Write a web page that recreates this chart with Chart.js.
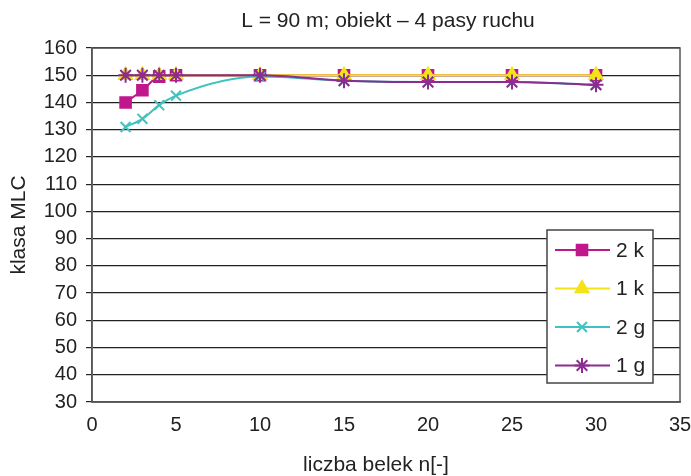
<!DOCTYPE html>
<html><head><meta charset="utf-8">
<script src="https://cdn.jsdelivr.net/npm/chart.js@4.4.0/dist/chart.umd.min.js"></script>
<style>html,body{margin:0;padding:0;background:#fff}#w{width:691px;height:476px}</style>
</head><body><div id="w"><canvas id="c"></canvas></div>
<script>
const xValues = [2, 3, 4, 5, 10, 15, 20, 25, 30];
const s2k = [140, 144.5, 149.5, 150, 150, 150, 150, 150, 150];
const s1k = [150, 150, 150, 150, 150, 150, 150, 150, 150];
const s2g = [131, 134, 139, 142.5, 149.5, 148, 147.5, 147.5, 146.5];
const s1g = [150, 150, 150, 150, 150, 148, 147.5, 147.5, 146.5];
const seriesNames = ['2 k', '1 k', '2 g', '1 g'];
const titleText = 'L = 90 m; obiekt – 4 pasy ruchu';
const xTitle = 'liczba belek n[-]';
const yTitle = 'klasa MLC';

const FONT = '"Liberation Sans", Arial, sans-serif';
const pts = a => a.map((v, i) => ({x: xValues[i], y: v}));
const styles = [
  {c: '#C0188C', p: 'rect', r: 7.5},
  {c: '#F5E31A', p: 'triangle', r: 7.5},
  {c: '#40C2C0', p: 'crossRot', r: 7},
  {c: '#8B2D8F', p: 'star', r: 7.5}
];
const seriesData = [s2k, s1k, s2g, s1g];
const datasets = seriesData.map((d, i) => ({
  label: seriesNames[i], data: pts(d),
  borderColor: styles[i].c, backgroundColor: styles[i].c,
  pointStyle: styles[i].p, pointRadius: styles[i].r, pointBorderWidth: 2,
  borderWidth: 2, tension: 0.4, cubicInterpolationMode: 'monotone'
})).reverse();

function drawMarker(ctx, i, x, y) {
  ctx.save();
  ctx.fillStyle = styles[i].c; ctx.strokeStyle = styles[i].c; ctx.lineWidth = 2;
  Chart.helpers.drawPoint(ctx, {pointStyle: styles[i].p, radius: styles[i].r, rotation: 0, borderWidth: 2}, x, y);
  ctx.restore();
}

const deco = {
  id: 'deco',
  afterDraw(chart) {
    const ctx = chart.ctx, a = chart.chartArea;
    ctx.save();
    ctx.fillStyle = '#222';
    ctx.font = '21px ' + FONT;
    ctx.textAlign = 'center'; ctx.textBaseline = 'middle';
    ctx.fillText(titleText, 388, 21);
    ctx.fillText(xTitle, 376, 465);
    // plot border
    ctx.strokeStyle = '#555'; ctx.lineWidth = 1.5;
    ctx.strokeRect(a.left, a.top, a.right - a.left, a.bottom - a.top);
    // legend
    const lx = 547, ly = 230, lw = 106, lh = 153;
    ctx.fillStyle = '#fff'; ctx.fillRect(lx, ly, lw, lh);
    ctx.strokeStyle = '#444'; ctx.lineWidth = 1.5; ctx.strokeRect(lx, ly, lw, lh);
    ctx.font = '21px ' + FONT; ctx.textAlign = 'left';
    seriesNames.forEach((n, i) => {
      const y = ly + 20 + i * 38.5;
      ctx.strokeStyle = styles[i].c; ctx.lineWidth = 2;
      ctx.beginPath(); ctx.moveTo(lx + 8, y); ctx.lineTo(lx + 63, y); ctx.stroke();
      drawMarker(ctx, i, lx + 35, y);
      ctx.fillStyle = '#222';
      ctx.fillText(n, lx + 69, y + 1);
    });
    ctx.restore();
  }
};

new Chart(document.getElementById('c'), {
  type: 'line',
  data: {datasets},
  options: {
    responsive: true, maintainAspectRatio: false, animation: false,
    layout: {padding: {top: 48, right: 0, left: 0, bottom: 0}},
    plugins: {legend: {display: false}, title: {display: false}, tooltip: {enabled: false}},
    scales: {
      x: {
        type: 'linear', min: 0, max: 35,
        ticks: {stepSize: 5, color: '#222', font: {size: 20, family: FONT}, padding: 4},
        grid: {display: false, drawTicks: true, tickLength: 7, color: '#555'},
        border: {display: true, color: '#555', width: 1.5},
        title: {display: false, text: xTitle},
        afterFit(s) { s.height = 74; s.paddingRight = 11; s.paddingLeft = 0; }
      },
      y: {
        min: 30, max: 160,
        ticks: {stepSize: 10, color: '#222', font: {size: 20, family: FONT}, padding: 9},
        grid: {color: '#222', lineWidth: 1.2, drawTicks: true, tickLength: 6},
        border: {display: true, color: '#555', width: 1.5},
        title: {display: true, text: yTitle, color: '#222', font: {size: 21, family: FONT}, padding: {top: 7, bottom: 0}},
        afterFit(s) { s.width = 92; s.paddingTop = 0; s.paddingBottom = 0; }
      }
    }
  },
  plugins: [deco]
});
</script></body></html>
